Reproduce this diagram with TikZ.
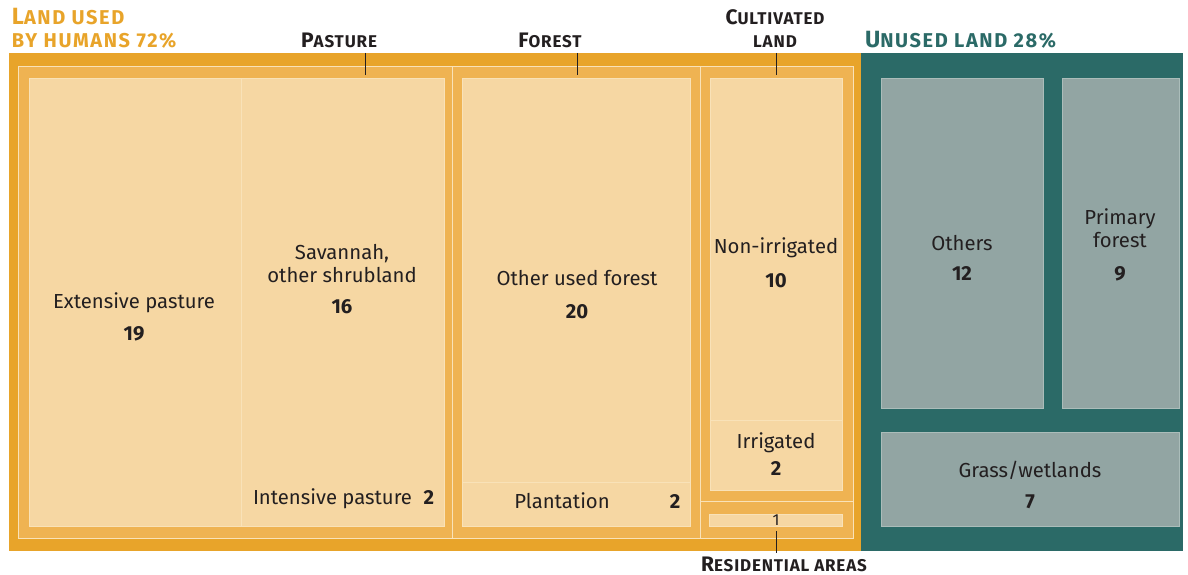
\documentclass[tikz,border=0pt]{standalone}
\usepackage{fontspec}
\setmainfont{Fira Sans}
\newfontfamily\headf[LetterSpace=5]{Fira Sans}
\newfontfamily\titlef[LetterSpace=8]{Fira Sans}
\definecolor{outerO}{HTML}{E8A42A}
\definecolor{midO}{HTML}{EFB352}
\definecolor{lightO}{HTML}{F6D7A3}
\definecolor{lineO}{HTML}{F9E2B8}
\definecolor{tealC}{HTML}{2B6A67}
\definecolor{grayC}{HTML}{92A5A3}
\definecolor{grayL}{HTML}{ABBDBA}
\definecolor{ink}{HTML}{231F20}
\newcommand{\bigc}[1]{{\fontsize{21}{21}\selectfont #1}}
\newcommand{\smc}[1]{{\fontsize{17}{17}\selectfont #1}}
\newcommand{\tbig}[1]{{\fontsize{23.5}{23.5}\selectfont #1}}
\newcommand{\tsm}[1]{{\fontsize{20}{20}\selectfont #1}}
\begin{document}
\begin{tikzpicture}[x=1pt,y=-1pt,
  every node/.style={inner sep=0pt,outer sep=0pt},
  area/.style={draw=none,anchor=north west},
  grp/.style={fill=midO,draw=lineO,line width=0.9pt,anchor=north west},
  lbox/.style={fill=lightO,draw=lineO,line width=0.6pt,anchor=north west},
  gbox/.style={fill=grayC,draw=grayL,line width=0.8pt,anchor=north west},
  txt/.style={font=\fontsize{20.3}{24}\selectfont,text=ink,anchor=base},
  num/.style={font=\fontsize{20.3}{24}\selectfont\bfseries,text=ink,anchor=base},
  head/.style={font=\headf\bfseries,text=ink,anchor=base},
  title/.style={font=\titlef\bfseries,anchor=base west},
  tick/.style={draw=ink,line width=0.9pt}]
\useasboundingbox (0,0) rectangle (1188,575);
% big areas
\node[area,fill=outerO,minimum width=853pt,minimum height=498pt] (used) at (9,53) {};
\node[area,fill=tealC,minimum width=322pt,minimum height=498pt] (unused) at (861,53) {};
% groups
\node[grp,minimum width=434pt,minimum height=472pt] (gpast) at (18,66) {};
\node[grp,minimum width=248pt,minimum height=472pt] (gfor) at (452,66) {};
\node[grp,minimum width=153pt,minimum height=435pt] (gcult) at (700,66) {};
\node[grp,minimum width=153pt,minimum height=37pt] (gres) at (700,501) {};
% pasture boxes
\node[lbox,minimum width=212pt,minimum height=448pt] (ext) at (29,78) {};
\node[lbox,minimum width=203pt,minimum height=448pt] (sav) at (241,78) {};
% forest boxes
\node[lbox,minimum width=228pt,minimum height=404pt] (ouf) at (462,78) {};
\node[lbox,minimum width=228pt,minimum height=44pt] (plant) at (462,482) {};
% cultivated boxes
\node[lbox,minimum width=132pt,minimum height=342pt] (nonirr) at (710,78) {};
\node[lbox,minimum width=132pt,minimum height=70pt] (irr) at (710,420) {};
\node[lbox,minimum width=133pt,minimum height=12pt] (res) at (709,514) {};
% unused boxes
\node[gbox,minimum width=162pt,minimum height=330pt] (oth) at (881,78) {};
\node[gbox,minimum width=117pt,minimum height=330pt] (prim) at (1062,78) {};
\node[gbox,minimum width=298pt,minimum height=94pt] (grass) at (881,432) {};
% box texts
\node[txt] (extT) at (134,308) {Extensive pasture};
\node[num] (extN) at (134,340) {19};
\node[txt] (savT1) at (342,259) {Savannah,};
\node[txt] (savT2) at (342,282) {other shrubland};
\node[num] (savN) at (342,313) {16};
\node[txt,anchor=base west] (intT) at (253,504) {Intensive pasture};
\node[num,anchor=base east] (intN) at (434,504) {2};
\node[txt] (oufT) at (577,285) {Other used forest};
\node[num] (oufN) at (577,318) {20};
\node[txt] (plT) at (562,508) {Plantation};
\node[num] (plN) at (675,508) {2};
\node[txt] (nonT) at (776,253) {Non-irrigated};
\node[num] (nonN) at (776,287) {10};
\node[txt] (irrT) at (776,448) {Irrigated};
\node[num] (irrN) at (776,475) {2};
\node[font=\fontsize{16}{16}\selectfont,text=ink,anchor=base] (resN) at (776,525) {1};
\node[txt] (othT) at (962,250) {Others};
\node[num] (othN) at (962,280) {12};
\node[txt] (primT1) at (1120,224) {Primary};
\node[txt] (primT2) at (1120,247) {forest};
\node[num] (primN) at (1120,280) {9};
\node[txt] (grT) at (1030,477) {Grass/wetlands};
\node[num] (grN) at (1030,508) {7};
% headings
\node[title,text=outerO] (t1a) at (12,25) {\tbig{L}\tsm{AND USED}};
\node[title,text=outerO] (t1b) at (12,48) {\tsm{BY HUMANS 72\%}};
\node[title,text=tealC] (t2) at (865,48) {\tbig{U}\tsm{NUSED LAND 28\%}};
\node[head] (hPast) at (339,48) {\bigc{P}\smc{ASTURE}};
\node[head] (hFor) at (550,48) {\bigc{F}\smc{OREST}};
\node[head] (hCult1) at (775,25) {\bigc{C}\smc{ULTIVATED}};
\node[head] (hCult2) at (775,48) {\smc{LAND}};
\node[head] (hRes) at (784,571) {\bigc{R}\smc{ESIDENTIAL AREAS}};
% ticks
\coordinate (kP) at (365,53);
\coordinate (kF) at (577,53);
\coordinate (kC) at (776,53);
\coordinate (kR) at (776,553);
\draw[tick] (kP) -- ++(0,22);
\draw[tick] (kF) -- ++(0,22);
\draw[tick] (kC) -- ++(0,22);
\draw[tick] (resN.south |- 0,531) -- (kR);
\end{tikzpicture}
\end{document}
